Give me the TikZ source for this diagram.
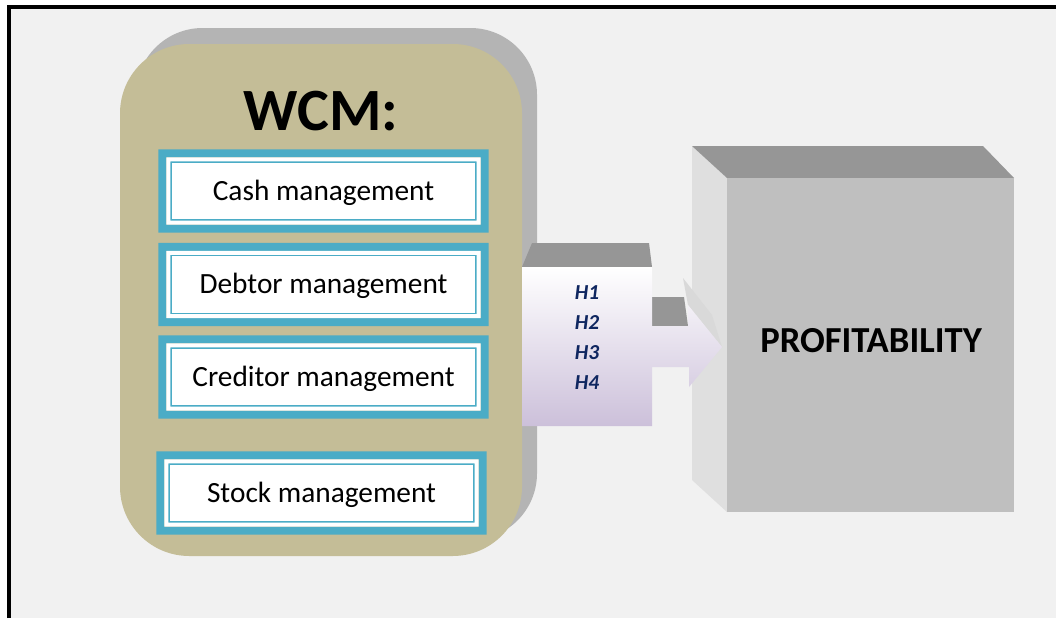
\documentclass[tikz,border=0pt]{standalone}
\usepackage{fontspec}
\setmainfont{Carlito}
\usetikzlibrary{positioning}

\definecolor{pagebg}{HTML}{F1F1F1}
\definecolor{shadowgray}{HTML}{B4B4B4}
\definecolor{wcmtan}{HTML}{C4BD97}
\definecolor{wcmteal}{HTML}{4BACC6}
\definecolor{topgray}{HTML}{969696}
\definecolor{sidegray}{HTML}{DFDFDF}
\definecolor{frontgray}{HTML}{BFBFBF}
\definecolor{headgray}{HTML}{D9D9D9}
\definecolor{hpurple}{HTML}{CCC0DA}
\definecolor{hnavy}{HTML}{0F2660}

\tikzset{
  mgmt/.style={draw=wcmteal,line width=1.1pt,fill=white,inner sep=0pt,
    minimum width=228.75pt,minimum height=43.5pt,text height=14pt,text depth=0pt,
    font=\fontsize{22}{26}\selectfont},
  hlabel/.style={text=hnavy,font=\fontsize{16}{18}\selectfont\bfseries\itshape}
}

\begin{document}
\begin{tikzpicture}[x=0.75pt,y=-0.75pt]
\useasboundingbox (0,0) rectangle (1056,618);

\fill[white] (0,0) rectangle (1056,618);
\fill[pagebg] (9,7) rectangle (1056,618);
\draw[line width=3pt] (9,618) -- (9,7) -- (1056,7);

% WCM panel
\fill[shadowgray,rounded corners=50pt] (136,28) rectangle (537,540);
\fill[wcmtan,rounded corners=52pt] (120,44) rectangle (522,556);
\node[font=\fontsize{45}{48}\selectfont\bfseries] (wcm) at (321,111) {WCM:};

\node[mgmt] (cash) at (323.5,191) {Cash management};
\node[mgmt] (debtor) at (323.5,284.5) {Debtor management};
\node[mgmt] (creditor) at (323.5,377) {Creditor management};
\node[mgmt] (stock) at (321.5,493) {Stock management};
\foreach \n in {cash,debtor,creditor,stock}{
  \fill[wcmteal,even odd rule]
    ([shift={(-12,-12)}]\n.north west) rectangle ([shift={(12,12)}]\n.south east)
    ([shift={(-4,-4)}]\n.north west) rectangle ([shift={(4,4)}]\n.south east);
  \fill[white,even odd rule]
    ([shift={(-4,-4)}]\n.north west) rectangle ([shift={(4,4)}]\n.south east)
    (\n.north west) rectangle (\n.south east);
}

% profitability box
\fill[sidegray] (692,146) -- (727,178) -- (727,512) -- (692,480) -- cycle;
\fill[topgray] (692,146) -- (983,146) -- (1014,178) -- (727,178) -- cycle;
\fill[frontgray] (727,178) rectangle (1014,512);
\node[font=\fontsize{27.5}{30}\selectfont\bfseries] (profit) at (871,341) {PROFITABILITY};

% hypotheses arrow
\fill[topgray] (532,243) -- (649,243) -- (652,267) -- (522,267) -- cycle;
\fill[topgray] (652,297) -- (684,297) -- (688,326) -- (652,326) -- cycle;
\fill[headgray] (683,278) -- (712,315) -- (722,347) -- (688,305) -- cycle;
\shade[top color=white,bottom color=hpurple]
  (522,267) -- (652,267) -- (652,326) -- (688,326) -- (688,305) -- (722,347)
  -- (689,387) -- (689,367) -- (652,367) -- (652,426) -- (522,426) -- cycle;
\foreach \i/\y in {1/293,2/323,3/353,4/383}
  \node[hlabel] (h\i) at (587,\y) {H\i};

\end{tikzpicture}
\end{document}
